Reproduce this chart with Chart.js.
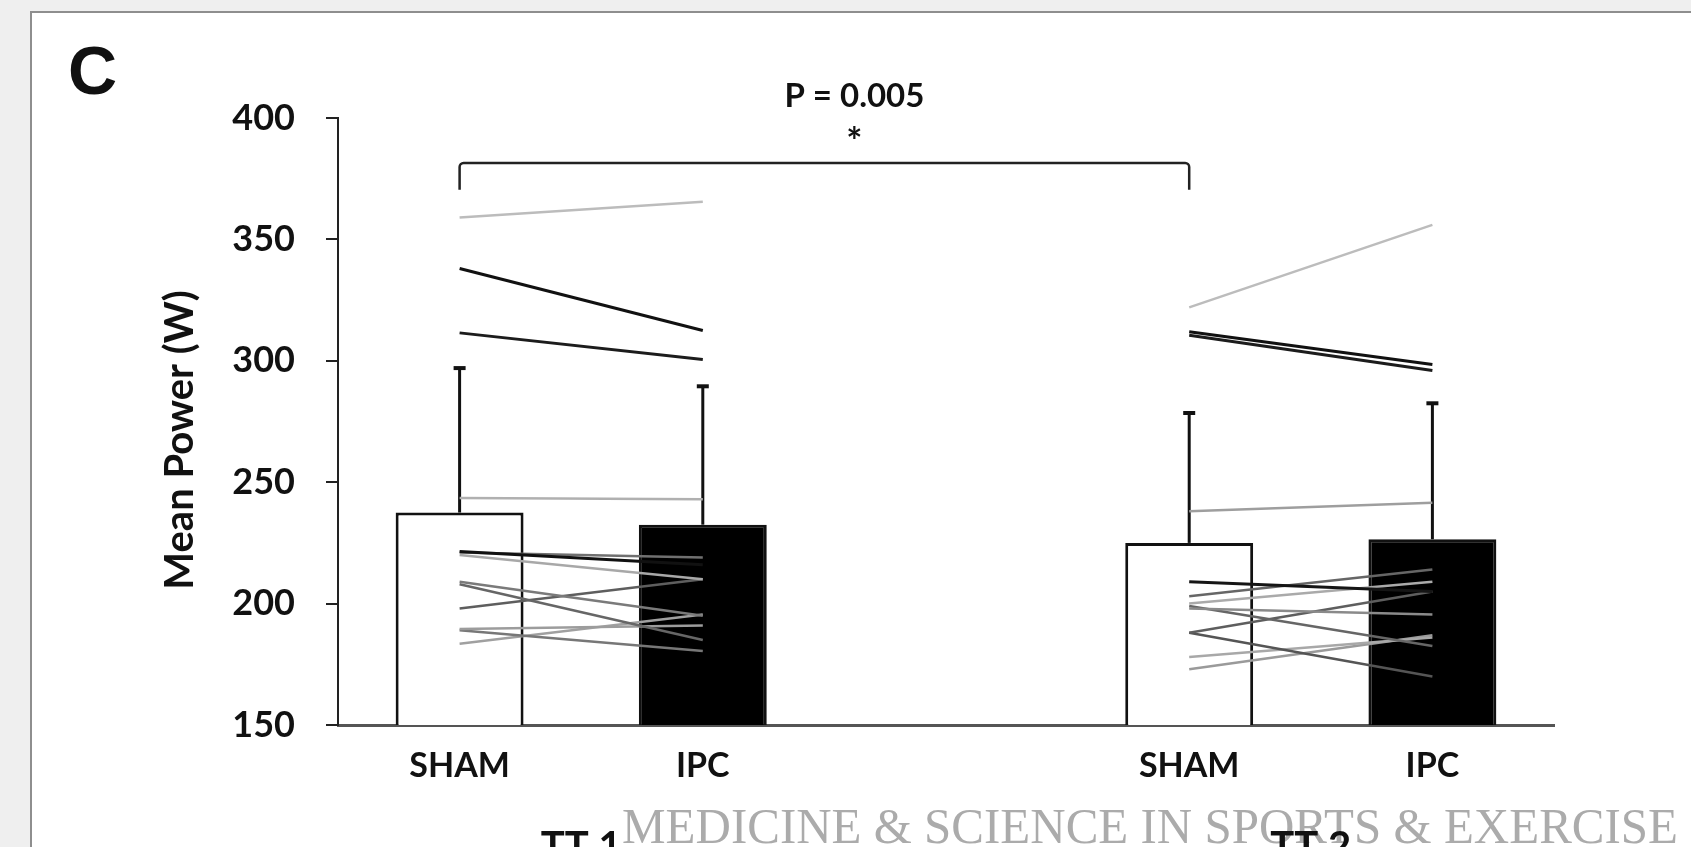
<!DOCTYPE html>
<html>
<head>
<meta charset="utf-8">
<title>Mean Power (W) - SHAM vs IPC</title>
<script src="https://cdn.jsdelivr.net/npm/chart.js@4.4.1/dist/chart.umd.min.js"></script>
<style>
  html, body { margin: 0; padding: 0; background: #efefef; overflow: hidden; }
  #panel {
    position: absolute; left: 30px; top: 11px; width: 1700px; height: 900px;
    background: #fff; border-left: 2px solid #8e8e8e; border-top: 2px solid #8e8e8e;
  }
  #wrap { position: absolute; left: 0; top: 0; width: 1691px; height: 847px; }
</style>
</head>
<body>
<div id="panel"></div>
<div id="wrap"><canvas id="powerChart"></canvas></div>
<script>
// ========== DATA ==========
const categories = ['SHAM', 'IPC', '', 'SHAM', 'IPC'];
const trialLabels = ['TT 1', 'TT 2'];
const yTicks = [150, 200, 250, 300, 350, 400];

const meanPower = [237.5, 232.5, null, 225, 226.5];
const sdPower = [59.5, 57, null, 53.5, 56];

// individual riders, SHAM value -> IPC value
const tt1Sham = [359, 338, 311.5, 243.5, 221.5, 221, 220, 209, 208, 198, 189.5, 189, 183.5];
const tt1Ipc  = [365.5, 312.5, 300.5, 243, 216, 219, 210, 195, 185, 210, 191, 180.5, 195.5];
const tt2Sham = [322, 312, 310.5, 238, 209, 203, 200, 198, 199, 188, 188, 178, 173];
const tt2Ipc  = [356, 298.5, 296, 241.5, 205, 214, 209, 195.5, 182.5, 205, 170, 186, 187];

const pValueText = 'P = 0.005';
const starText = '*';
const bracketTop = 381.5;
const bracketFoot = 370.5;
const panelLetter = 'C';
const yTitle = 'Mean Power (W)';
const watermark = 'MEDICINE & SCIENCE IN SPORTS & EXERCISE';

// ========== STYLE ==========
const tt1Shades = ['#bcbcbc', '#111', '#1c1c1c', '#b0b0b0', '#111', '#707070', '#a8a8a8',
                   '#7a7a7a', '#666', '#5e5e5e', '#9c9c9c', '#777', '#a0a0a0'];
const tt2Shades = ['#bcbcbc', '#111', '#1c1c1c', '#9e9e9e', '#151515', '#666', '#aaa',
                   '#8a8a8a', '#666', '#5e5e5e', '#555', '#a8a8a8', '#9a9a9a'];
const darkShades = ['#111', '#1c1c1c', '#151515'];
const FONT = 'Lato, "Open Sans", sans-serif';

function riderLines(sham, ipc, shades, first) {
  return sham.map((v, i) => {
    const data = categories.map(() => null);
    data[first] = v;
    data[first + 1] = ipc[i];
    return {
      type: 'line',
      data,
      borderColor: shades[i],
      borderWidth: darkShades.includes(shades[i]) ? 3 : 2.5,
      pointRadius: 0,
      spanGaps: false,
      order: 0
    };
  });
}

// error bars (upper side only), drawn under the rider lines
const errorBars = {
  id: 'errorBars',
  beforeDatasetsDraw(chart) {
    const { ctx, scales: { x, y } } = chart;
    ctx.save();
    ctx.strokeStyle = '#111';
    meanPower.forEach((m, i) => {
      if (m == null) return;
      const px = x.getPixelForValue(i);
      const top = y.getPixelForValue(m + sdPower[i]);
      ctx.lineWidth = 3;
      ctx.beginPath();
      ctx.moveTo(px, y.getPixelForValue(m));
      ctx.lineTo(px, top);
      ctx.stroke();
      ctx.lineWidth = 4;
      ctx.beginPath();
      ctx.moveTo(px - 6, top);
      ctx.lineTo(px + 6, top);
      ctx.stroke();
    });
    ctx.restore();
  }
};

// letter, bracket, p value, axis title, trial labels, watermark
const annotations = {
  id: 'annotations',
  afterDraw(chart) {
    const { ctx, scales: { x, y } } = chart;
    ctx.save();

    ctx.fillStyle = '#111';
    ctx.font = 'bold 68px "Liberation Sans", Arial, sans-serif';
    ctx.textAlign = 'left';
    ctx.textBaseline = 'alphabetic';
    ctx.fillText(panelLetter, 68, 94);

    // bracket between the two SHAM bars
    const x0 = x.getPixelForValue(0), x1 = x.getPixelForValue(3);
    const yt = y.getPixelForValue(bracketTop), yf = y.getPixelForValue(bracketFoot);
    ctx.strokeStyle = '#222';
    ctx.lineWidth = 2.5;
    ctx.beginPath();
    ctx.moveTo(x0, yf);
    ctx.arcTo(x0, yt, x0 + 8, yt, 4);
    ctx.lineTo(x1 - 4, yt);
    ctx.arcTo(x1, yt, x1, yf, 4);
    ctx.lineTo(x1, yf);
    ctx.stroke();

    const mid = (x0 + x1) / 2 + 30;
    ctx.textAlign = 'center';
    ctx.textBaseline = 'middle';
    ctx.font = 'bold 33px ' + FONT;
    ctx.fillText(pValueText, mid, 96);
    ctx.font = 'bold 38px ' + FONT;
    ctx.fillText(starText, mid, 143);

    // y axis title
    ctx.save();
    ctx.translate(180, 440);
    ctx.rotate(-Math.PI / 2);
    ctx.font = 'bold 40px ' + FONT;
    ctx.fillText(yTitle, 0, 0);
    ctx.restore();

    // watermark, fitted to its printed width
    ctx.save();
    ctx.fillStyle = 'rgba(150,150,150,0.8)';
    ctx.font = '50px "Liberation Serif", "DejaVu Serif", serif';
    ctx.textAlign = 'left';
    ctx.textBaseline = 'alphabetic';
    const w = ctx.measureText(watermark).width;
    ctx.translate(622, 843);
    ctx.scale(1056 / w, 1);
    ctx.fillText(watermark, 0, 0);
    ctx.restore();

    // trial labels under each pair
    ctx.fillStyle = '#111';
    ctx.textAlign = 'center';
    ctx.textBaseline = 'alphabetic';
    ctx.font = 'bold 40px ' + FONT;
    trialLabels.forEach((t, k) => {
      const cx = (x.getPixelForValue(k * 3) + x.getPixelForValue(k * 3 + 1)) / 2;
      ctx.fillText(t, cx, 860);
    });

    ctx.restore();
  }
};

// ========== CHART ==========
function initPowerChart() {
  const el = document.getElementById('powerChart');
  if (!el) return;

  new Chart(el.getContext('2d'), {
    type: 'bar',
    data: {
      labels: categories,
      datasets: [
        {
          label: 'Mean',
          data: meanPower,
          backgroundColor: ['#fff', '#000', '#fff', '#fff', '#000'],
          borderColor: '#111',
          borderWidth: 3,
          borderSkipped: false,
          barPercentage: 0.526,
          categoryPercentage: 1,
          order: 10
        },
        ...riderLines(tt1Sham, tt1Ipc, tt1Shades, 0),
        ...riderLines(tt2Sham, tt2Ipc, tt2Shades, 3)
      ]
    },
    options: {
      responsive: true,
      maintainAspectRatio: false,
      animation: false,
      layout: { padding: { left: 0, top: 118, right: 137, bottom: 42 } },
      plugins: {
        legend: { display: false },
        tooltip: { enabled: false }
      },
      scales: {
        x: {
          grid: { display: false, drawTicks: false },
          border: { color: '#555', width: 3 },
          ticks: { color: '#111', font: { family: FONT, size: 34, weight: 'bold' }, padding: 21 },
          afterFit: s => { s.height = 80; }
        },
        y: {
          min: 150,
          max: 400,
          afterBuildTicks: s => { s.ticks = yTicks.map(v => ({ value: v })); },
          grid: { drawOnChartArea: false, tickLength: 12, color: '#222', lineWidth: 2 },
          border: { color: '#222', width: 2 },
          ticks: { color: '#111', font: { family: FONT, size: 36, weight: 'bold' }, padding: 31 },
          afterFit: s => { s.width = 338; }
        }
      }
    },
    plugins: [errorBars, annotations]
  });
}

document.addEventListener('DOMContentLoaded', initPowerChart);
</script>
</body>
</html>
